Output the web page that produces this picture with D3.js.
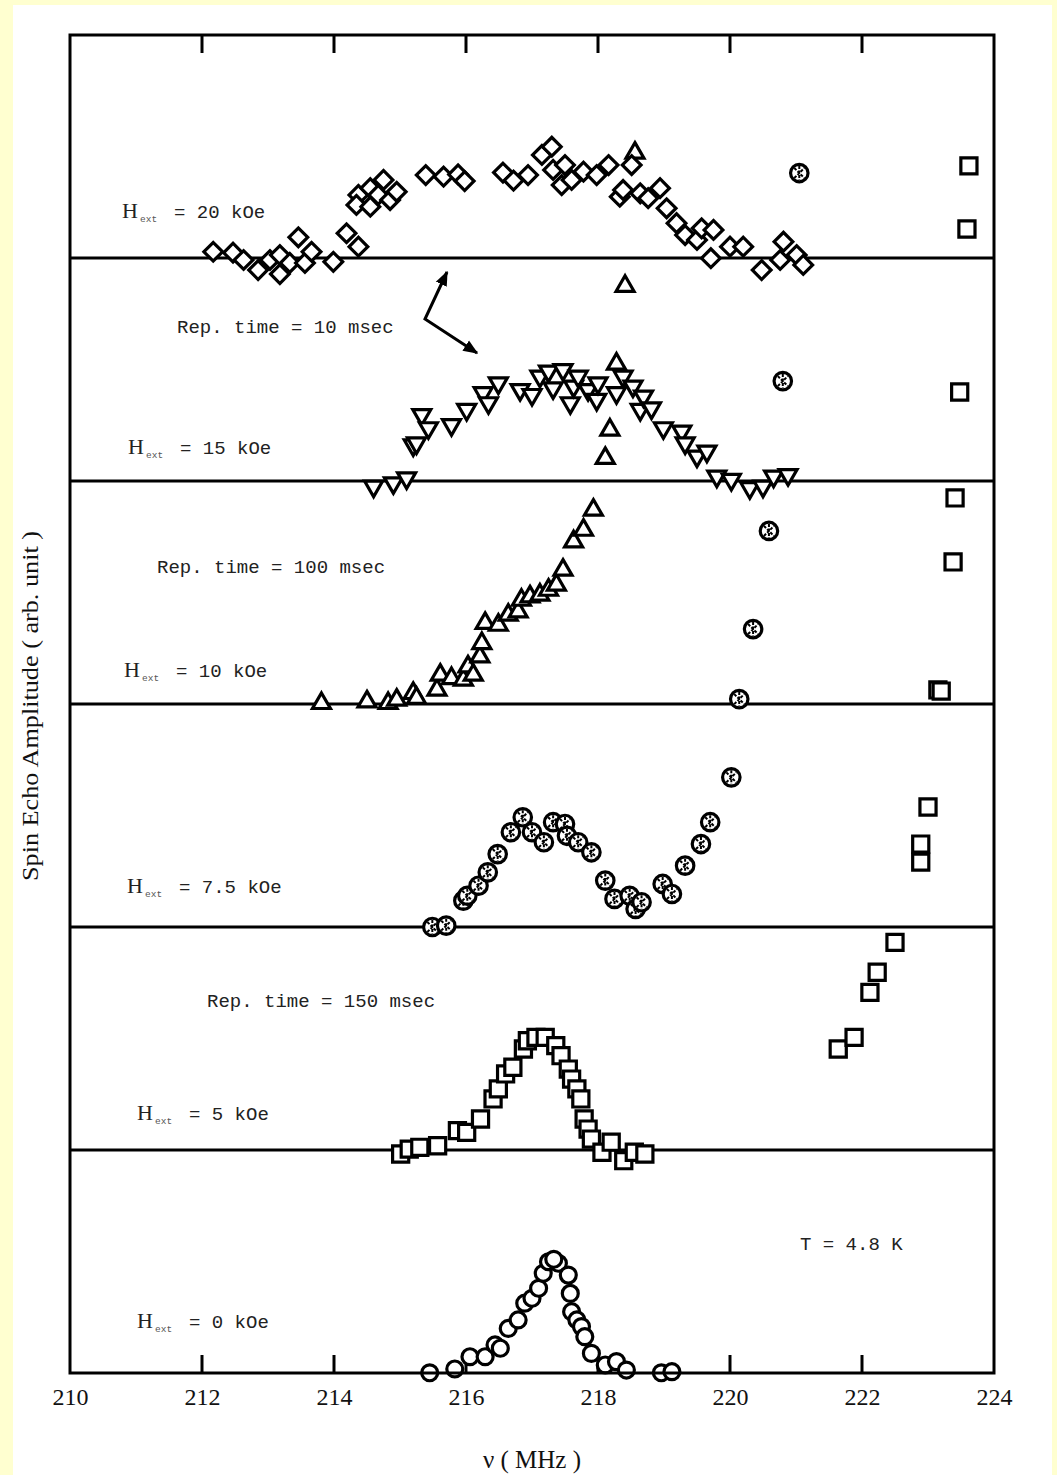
<!DOCTYPE html>
<html>
<head>
<meta charset="utf-8">
<script src="https://cdn.jsdelivr.net/npm/d3@7"></script>
<style>
  html, body { margin: 0; padding: 0; background: #FFFFD0; }
  svg { display: block; }
</style>
</head>
<body>
<svg id="chart" width="1057" height="1475"></svg>
<script>
// ---- data: frequency (MHz) and spin echo amplitude (arb. unit, panel height = 1) ----
// each field's spectrum is drawn on its own baseline (offset), values above 1 run into the panels above
const fieldLabels = ["0", "5", "7.5", "10", "15", "20"];      // H_ext in kOe, bottom to top
const panelOffsets = [0, 1, 2, 3, 4, 5];

const xTicks = [210, 212, 214, 216, 218, 220, 222, 224];

const h0 = [
  [215.45,0.001],[215.83,0.018],[216.06,0.073],[216.29,0.073],[216.44,0.126],[216.52,0.111],
  [216.64,0.200],[216.79,0.238],[216.89,0.313],[217.00,0.335],[217.10,0.380],[217.17,0.447],
  [217.25,0.499],[217.40,0.492],[217.33,0.510],[217.55,0.439],[217.58,0.357],[217.60,0.275],
  [217.68,0.238],[217.75,0.208],[217.80,0.163],[217.90,0.088],[218.11,0.036],[218.28,0.051],
  [218.43,0.013],[218.96,0.001],[219.12,0.006]
];

const h5 = [
  [215.01,-0.018],[215.14,0.004],[215.30,0.012],[215.57,0.019],[215.87,0.087],[216.01,0.079],
  [216.22,0.139],[216.41,0.229],[216.49,0.274],[216.60,0.341],[216.71,0.371],[216.87,0.453],
  [216.93,0.490],[217.06,0.505],[217.20,0.505],[217.36,0.468],[217.44,0.423],[217.55,0.363],
  [217.60,0.318],[217.68,0.274],[217.74,0.229],[217.79,0.139],[217.85,0.094],[217.90,0.049],
  [218.06,-0.010],[218.20,0.035],[218.39,-0.048],[218.55,-0.010],[218.71,-0.018],
  [221.64,0.453],[221.88,0.505],[222.12,0.707],[222.23,0.797],[222.50,0.931],[222.89,1.291],
  [222.89,1.372],[223.00,1.538],[223.15,2.063],[223.20,2.058],[223.38,2.637],[223.41,2.924],
  [223.48,3.399],[223.59,4.130],[223.62,4.413]
];

const h75 = [
  [215.49,0.000],[215.70,0.006],[215.96,0.118],[216.02,0.140],[216.19,0.185],[216.33,0.245],
  [216.48,0.327],[216.68,0.425],[216.86,0.492],[217.00,0.425],[217.18,0.380],[217.32,0.470],
  [217.50,0.462],[217.53,0.409],[217.70,0.380],[217.90,0.335],[218.11,0.208],[218.25,0.126],
  [218.48,0.140],[218.57,0.081],[218.66,0.111],[218.98,0.193],[219.12,0.148],[219.32,0.275],
  [219.56,0.372],[219.70,0.470],[220.02,0.671],
  [220.14,1.022],[220.35,1.336],[220.59,1.776],[220.80,2.448],[221.05,3.381]
];

const h10 = [
  [213.81,0.012],[214.50,0.019],[214.82,0.012],[214.95,0.027],[215.20,0.057],[215.25,0.035],
  [215.56,0.072],[215.61,0.139],[215.78,0.124],[215.96,0.117],[216.03,0.176],[216.11,0.139],
  [216.21,0.221],[216.24,0.281],[216.29,0.371],[216.49,0.363],[216.64,0.408],[216.79,0.423],
  [216.84,0.475],[216.97,0.490],[217.12,0.498],[217.25,0.520],[217.37,0.543],[217.47,0.610],
  [217.63,0.737],[217.78,0.789],[217.93,0.879],
  [218.11,1.111],[218.18,1.238],[218.28,1.534],[218.41,1.883],[218.56,2.480]
];

const h15 = [
  [214.60,-0.015],[214.90,0.000],[215.10,0.022],[215.20,0.170],[215.25,0.179],[215.33,0.306],
  [215.43,0.247],[215.78,0.261],[216.01,0.329],[216.26,0.404],[216.34,0.359],[216.49,0.448],
  [216.82,0.418],[217.00,0.396],[217.12,0.478],[217.25,0.501],[217.32,0.426],[217.47,0.508],
  [217.58,0.359],[217.63,0.434],[217.70,0.478],[217.85,0.418],[217.98,0.374],[218.00,0.448],
  [218.28,0.404],[218.38,0.478],[218.53,0.434],[218.64,0.329],[218.69,0.389],[218.81,0.336],
  [218.99,0.247],[219.27,0.232],[219.32,0.179],[219.50,0.120],[219.65,0.142],[219.80,0.030],
  [220.02,0.015],[220.30,-0.022],[220.50,-0.015],[220.66,0.030],[220.88,0.037]
];

const h20 = [
  [212.17,0.028],[212.47,0.024],[212.63,-0.009],[212.85,-0.054],[213.03,-0.009],[213.18,0.013],
  [213.18,-0.072],[213.33,-0.022],[213.46,0.093],[213.56,-0.022],[213.66,0.028],[213.99,-0.017],
  [214.19,0.111],[214.37,0.051],[214.37,0.283],[214.34,0.238],[214.55,0.313],[214.55,0.230],
  [214.67,0.283],[214.75,0.350],[214.85,0.260],[214.95,0.297],[215.39,0.372],[215.66,0.365],
  [215.88,0.375],[215.98,0.345],[216.56,0.383],[216.72,0.347],[216.94,0.372],[217.15,0.462],
  [217.30,0.499],[217.32,0.395],[217.50,0.417],[217.45,0.327],[217.60,0.350],[217.78,0.387],
  [217.98,0.372],[218.16,0.417],[218.33,0.275],[218.38,0.305],[218.51,0.417],[218.64,0.290],
  [218.76,0.268],[218.94,0.313],[219.04,0.223],[219.19,0.156],[219.32,0.103],[219.50,0.081],
  [219.57,0.133],[219.75,0.126],[219.71,-0.001],[220.00,0.051],[220.20,0.051],[220.48,-0.054],
  [220.76,-0.009],[220.81,0.073],[221.01,0.013],[221.11,-0.031]
];

// ---- layout ----
const svg = d3.select("#chart");
const W = 1057, H = 1475;
const plot = { left: 70, right: 994, top: 35, bottom: 1373 };

const x = d3.scaleLinear().domain([210, 224]).range([plot.left, plot.right]);
const y = d3.scaleLinear().domain([0, 6]).range([plot.bottom, plot.top]);

// white sheet on the pale yellow page
svg.append("rect").attr("x", 13).attr("y", 5).attr("width", 1039).attr("height", H - 5).attr("fill", "#ffffff");

// ---- marker drawing ----
const sq = d3.symbol().type(d3.symbolSquare);
const tri = d3.symbol().type(d3.symbolTriangle);
const circ = d3.symbol().type(d3.symbolCircle);

function drawSeries(data, offset, kind) {
  const g = svg.append("g").attr("class", "series-" + kind)
    .attr("fill", "#fff").attr("stroke", "#000").attr("stroke-width", 3.2);
  const pts = g.selectAll("g").data(data).join("g")
    .attr("transform", d => `translate(${x(d[0])},${y(offset + d[1])})`);
  if (kind === "diamond") {
    pts.append("path").attr("d", sq.size(175)()).attr("transform", "rotate(45)");
  } else if (kind === "down") {
    pts.append("path").attr("d", tri.size(140)()).attr("transform", "rotate(180) translate(0,-2)");
  } else if (kind === "up") {
    pts.append("path").attr("d", tri.size(140)()).attr("transform", "translate(0,2)");
  } else if (kind === "square") {
    pts.append("path").attr("d", sq.size(260)());
  } else if (kind === "circle") {
    pts.append("path").attr("d", circ.size(200)());
  } else if (kind === "xcircle") {
    pts.append("path").attr("d", circ.size(240)());
    pts.append("path").attr("d", "M-5,-5L5,5M-5,5L5,-5M0,-7V7")
      .attr("stroke-width", 2).attr("stroke-dasharray", "3,1.5");
  }
}

// ---- frame, panel baselines, ticks ----
const frame = svg.append("g").attr("stroke", "#000").attr("fill", "none");

frame.selectAll("line.base").data(panelOffsets.slice(1)).join("line")
  .attr("class", "base")
  .attr("x1", plot.left).attr("x2", plot.right)
  .attr("y1", d => y(d)).attr("y2", d => y(d))
  .attr("stroke-width", 3);

const innerTicks = xTicks.slice(1, -1);
frame.selectAll("line.tb").data(innerTicks).join("line")
  .attr("class", "tb")
  .attr("x1", d => x(d)).attr("x2", d => x(d))
  .attr("y1", plot.bottom).attr("y2", plot.bottom - 18)
  .attr("stroke-width", 3);
frame.selectAll("line.tt").data(innerTicks).join("line")
  .attr("class", "tt")
  .attr("x1", d => x(d)).attr("x2", d => x(d))
  .attr("y1", plot.top).attr("y2", plot.top + 18)
  .attr("stroke-width", 3);

// tick labels via a bottom axis with the ticks hidden
const xAxis = d3.axisBottom(x).tickValues(xTicks).tickSize(0).tickPadding(15).tickFormat(d3.format("d"));
const axisG = svg.append("g").attr("transform", `translate(0,${plot.bottom})`).call(xAxis);
axisG.select(".domain").remove();
axisG.selectAll("text")
  .attr("font-family", "'Liberation Serif', 'Times New Roman', serif")
  .attr("font-size", 24).attr("fill", "#111");

// ---- spectra ----
drawSeries(h0, panelOffsets[0], "circle");
drawSeries(h5, panelOffsets[1], "square");
drawSeries(h75, panelOffsets[2], "xcircle");
drawSeries(h10, panelOffsets[3], "up");
drawSeries(h15, panelOffsets[4], "down");
drawSeries(h20, panelOffsets[5], "diamond");

// outer frame on top
svg.append("rect")
  .attr("x", plot.left).attr("y", plot.top)
  .attr("width", plot.right - plot.left).attr("height", plot.bottom - plot.top)
  .attr("fill", "none").attr("stroke", "#000").attr("stroke-width", 3);

// ---- annotations ----
const mono = "'Liberation Mono', 'Courier New', monospace";
const serif = "'Liberation Serif', 'Times New Roman', serif";

function fieldLabel(x0, base, value) {
  const t = svg.append("g").attr("fill", "#222");
  t.append("text").attr("x", x0).attr("y", base)
    .attr("font-family", serif).attr("font-size", 22).text("H");
  t.append("text").attr("x", x0 + 18).attr("y", base + 4)
    .attr("font-family", mono).attr("font-size", 9.5).attr("fill", "#555").text("ext");
  t.append("text").attr("x", x0 + 52).attr("y", base)
    .attr("font-family", mono).attr("font-size", 19).text(`= ${value} kOe`);
}
fieldLabel(122, 218, fieldLabels[5]);
fieldLabel(128, 454, fieldLabels[4]);
fieldLabel(124, 677, fieldLabels[3]);
fieldLabel(127, 893, fieldLabels[2]);
fieldLabel(137, 1120, fieldLabels[1]);
fieldLabel(137, 1328, fieldLabels[0]);

const notes = [
  { text: "Rep. time = 10 msec", x: 177, y: 333 },
  { text: "Rep. time = 100 msec", x: 157, y: 573 },
  { text: "Rep. time = 150 msec", x: 207, y: 1007 },
  { text: "T = 4.8 K", x: 800, y: 1250 }
];
svg.selectAll("text.note").data(notes).join("text")
  .attr("class", "note")
  .attr("x", d => d.x).attr("y", d => d.y)
  .attr("font-family", mono).attr("font-size", 19).attr("fill", "#222")
  .text(d => d.text);

// bent double arrow pointing at the 20 kOe and 15 kOe spectra
const defs = svg.append("defs");
defs.append("marker").attr("id", "ah").attr("viewBox", "0 0 10 10")
  .attr("refX", 9).attr("refY", 5).attr("markerWidth", 5).attr("markerHeight", 5)
  .attr("orient", "auto")
  .append("path").attr("d", "M0,1L10,5L0,9z").attr("fill", "#000");
defs.append("marker").attr("id", "ah0").attr("viewBox", "0 0 10 10")
  .attr("refX", 1).attr("refY", 5).attr("markerWidth", 5).attr("markerHeight", 5)
  .attr("orient", "auto")
  .append("path").attr("d", "M10,1L0,5L10,9z").attr("fill", "#000");
svg.append("path")
  .attr("d", "M447,272L425,319L477,353")
  .attr("fill", "none").attr("stroke", "#000").attr("stroke-width", 3)
  .attr("marker-start", "url(#ah0)").attr("marker-end", "url(#ah)");

// axis titles
svg.append("text")
  .attr("x", 532).attr("y", 1468).attr("text-anchor", "middle")
  .attr("font-family", serif).attr("font-size", 25).attr("fill", "#111")
  .text("ν ( MHz )");
svg.append("text")
  .attr("transform", "translate(38,706) rotate(-90)").attr("text-anchor", "middle")
  .attr("font-family", serif).attr("font-size", 24).attr("fill", "#111")
  .attr("textLength", 350).attr("lengthAdjust", "spacingAndGlyphs")
  .text("Spin Echo Amplitude ( arb. unit )");
</script>
</body>
</html>
